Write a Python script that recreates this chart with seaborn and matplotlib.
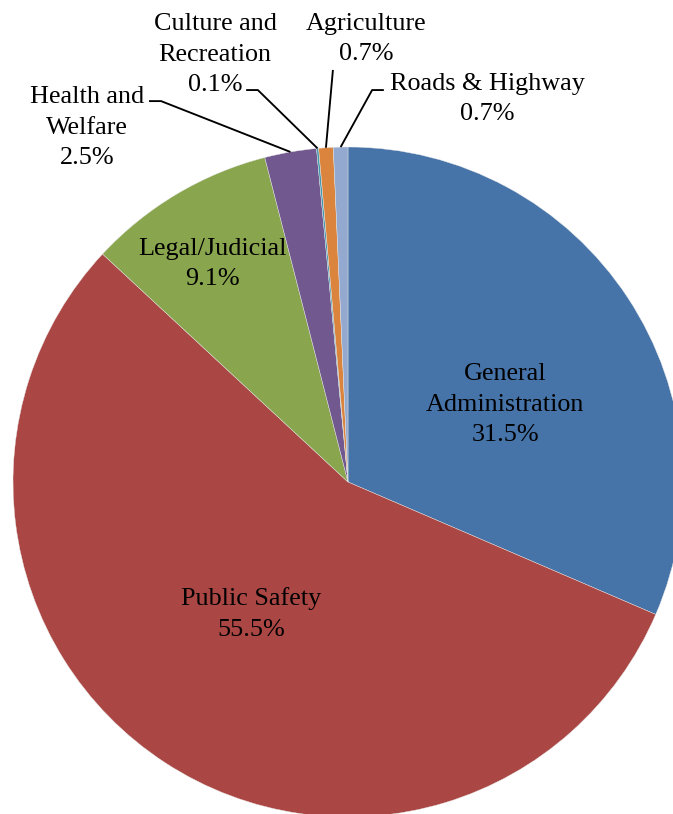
import numpy as np
import matplotlib
matplotlib.use("Agg")
import matplotlib.pyplot as plt
import seaborn as sns

# Expenditure shares by function (percent)
categories = ["General\nAdministration", "Public Safety", "Legal/Judicial",
              "Health and\nWelfare", "Culture and\nRecreation", "Agriculture",
              "Roads & Highway"]
shares = [31.5, 55.5, 9.1, 2.5, 0.1, 0.7, 0.7]
colors = ["#4673A8", "#AA4744", "#89A54E", "#71588F", "#4198AF", "#DB843D", "#93A9CF"]

# Label placement (data coords, pie radius = 1)
inside_pos = {0: (0.469, 0.230), 1: (-0.288, -0.394), 2: (-0.404, 0.651)}
outside_pos = {3: (-0.779, 1.057), 4: (-0.397, 1.275), 5: (0.054, 1.322), 6: (0.416, 1.143)}
# leader line start and optional elbow for outside labels
leader_pts = {
    3: [(-0.594, 1.137), (-0.558, 1.137)],
    4: [(-0.304, 1.170), (-0.269, 1.170)],
    5: [(-0.045, 1.230)],
    6: [(0.107, 1.170), (0.072, 1.170)],
}

sns.set_theme(style="white")
plt.rcParams["font.family"] = ["Liberation Serif", "DejaVu Serif"]

fig = plt.figure(figsize=(6.73, 8.14), dpi=100)
ax = fig.add_axes([0, 0, 1, 1])

wedges, _ = ax.pie(shares, colors=colors, startangle=90, counterclock=False,
                   radius=1.0, center=(0, 0),
                   wedgeprops=dict(edgecolor="#E8E8E8", linewidth=0.3))

fs = 18.8
for i, (lab, v) in enumerate(zip(categories, shares)):
    text = f"{lab}\n{v:.1f}%"
    if i in inside_pos:
        x, y = inside_pos[i]
    else:
        x, y = outside_pos[i]
        w = wedges[i]
        ang = np.deg2rad((w.theta1 + w.theta2) / 2)
        end = (np.cos(ang), np.sin(ang))
        pts = leader_pts[i] + [end]
        xs, ys = zip(*pts)
        ax.plot(xs, ys, color="black", lw=1.35, solid_capstyle="butt", zorder=3)
    ax.text(x, y, text, ha="center", va="center", multialignment="center",
            fontsize=fs, color="black", linespacing=1.5, zorder=4)

ax.set_aspect("equal")
ax.set_xlim(-348 / 335, 325 / 335)
ax.set_ylim(-332 / 335, 482 / 335)
ax.axis("off")

fig.savefig("out.png", dpi=100, facecolor="white")
